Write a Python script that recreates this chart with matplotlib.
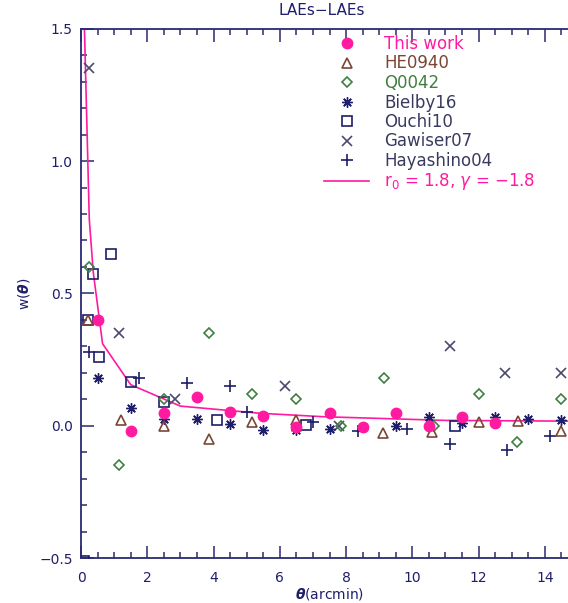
import matplotlib
matplotlib.use("Agg")
import matplotlib.pyplot as plt
from matplotlib.ticker import MultipleLocator

plt.rcParams['font.family'] = ['DejaVu Sans']

# ---- data ----
this_x = [0.5, 1.5, 2.5, 3.5, 4.5, 5.5, 6.5, 7.5, 8.5, 9.5, 10.5, 11.5, 12.5]
this_y = [0.40, -0.02, 0.047, 0.11, 0.05, 0.037, -0.004, 0.049, -0.006, 0.047, -0.001, 0.032, 0.011]

he_x = [0.2, 1.2, 2.5, 3.85, 5.15, 6.5, 9.1, 10.6, 12.0, 13.2, 14.5]
he_y = [0.40, 0.02, 0.0, -0.05, 0.013, 0.02, -0.026, -0.023, 0.013, 0.019, -0.019]

q_x = [0.25, 1.15, 2.5, 3.85, 5.15, 6.5, 7.85, 9.15, 10.65, 12.0, 13.15, 14.5]
q_y = [0.60, -0.15, 0.10, 0.35, 0.12, 0.10, 0.0, 0.18, 0.0, 0.12, -0.06, 0.10]

bi_x = [0.5, 1.5, 2.5, 3.5, 4.5, 5.5, 6.5, 7.5, 8.5, 9.5, 10.5, 11.5, 12.5, 13.5, 14.5]
bi_y = [0.18, 0.068, 0.024, 0.025, 0.006, -0.016, -0.016, -0.013, -0.005, 0.0, 0.032, 0.01, 0.032, 0.025, 0.02]

ou_x = [0.08, 0.2, 0.35, 0.55, 0.9, 1.5, 2.5, 4.1, 6.8, 11.3]
ou_y = [-0.51, 0.40, 0.575, 0.26, 0.65, 0.165, 0.09, 0.022, 0.003, 0.0]

ga_x = [0.25, 1.15, 2.85, 6.15, 7.8, 11.15, 12.8, 14.5]
ga_y = [1.35, 0.35, 0.10, 0.15, 0.0, 0.30, 0.20, 0.20]

ha_x = [0.25, 1.75, 3.2, 4.5, 5.0, 7.0, 8.35, 9.85, 11.15, 12.85, 14.15]
ha_y = [0.28, 0.18, 0.16, 0.15, 0.05, 0.013, -0.02, -0.013, -0.07, -0.09, -0.04]

fit_x = [0.08, 0.25, 0.37, 0.65, 1.5, 3.0, 5.4, 7.3, 11.0, 15.0]
fit_y = [1.62, 0.78, 0.58, 0.31, 0.155, 0.074, 0.047, 0.034, 0.020, 0.017]

xticks = [0, 2, 4, 6, 8, 10, 12, 14]
yticks = [-0.5, 0.0, 0.5, 1.0, 1.5]
ytick_labels = ['\u22120.5', '0.0', '0.5', '1.0', '1.5']

# ---- styling ----
NAVY = '#1e1e6a'
AXC = '#2a2a72'
PINK = '#ff1aa0'
BROWN = '#7a4535'
GREEN = '#3f7f3f'
GREY = '#3a3a60'

fig = plt.figure(figsize=(5.68, 6.03), dpi=100)
ax = fig.add_axes([81/568, (603-558)/603, (578-81)/568, (558-28.8)/603])

ax.plot(fit_x, fit_y, color=PINK, lw=1.2, zorder=2,
        label=r'r$_0$ = 1.8, $\gamma$ = $-$1.8')
ax.plot(ga_x, ga_y, ls='none', marker='x', ms=7, mew=1.2, color='#4a4a70', label='Gawiser07', zorder=3)
ax.plot(ha_x, ha_y, ls='none', marker='+', ms=9, mew=1.2, color=NAVY, label='Hayashino04', zorder=3)
ax.plot(ou_x, ou_y, ls='none', marker='s', ms=7.5, mew=1.2, mfc='none', mec=NAVY, label='Ouchi10', zorder=3)
ax.plot(bi_x, bi_y, ls='none', marker=(8, 2, 0), ms=7.5, mew=1.0, color=NAVY, label='Bielby16', zorder=3)
ax.plot(q_x, q_y, ls='none', marker='D', ms=5.5, mew=1.2, mfc='none', mec=GREEN, label='Q0042', zorder=3)
ax.plot(he_x, he_y, ls='none', marker='^', ms=7.5, mew=1.2, mfc='none', mec=BROWN, label='HE0940', zorder=3)
ax.plot(this_x, this_y, ls='none', marker='o', ms=7.5, color=PINK, label='This work', zorder=4)

ax.set_xlim(0, 15)
ax.set_ylim(-0.5, 1.5)
ax.set_xticks(xticks)
ax.set_yticks(yticks)
ax.set_yticklabels(ytick_labels)
ax.xaxis.set_minor_locator(MultipleLocator(0.5))
ax.yaxis.set_minor_locator(MultipleLocator(0.1))
ax.tick_params(which='both', direction='in', top=True, right=False, colors=AXC,
               labelcolor=NAVY, labelsize=10, width=1.1)
ax.tick_params(which='major', length=9)
ax.tick_params(axis='x', which='major', pad=9)
ax.tick_params(axis='y', which='major', pad=6)
ax.tick_params(which='minor', length=4)
for s in ax.spines.values():
    s.set_color(AXC)
    s.set_linewidth(1.3)

ax.set_title('LAEs\u2212LAEs', color=NAVY, fontsize=11, pad=10, x=0.485)
ax.set_xlabel(r'$\boldsymbol{\theta}$(arcmin)', color=NAVY, fontsize=10, labelpad=1)
ax.set_ylabel(r'w($\boldsymbol{\theta}$)', color=NAVY, fontsize=10, labelpad=0)
ax.yaxis.set_label_coords(-0.098, 0.5)

handles, labels = ax.get_legend_handles_labels()
order = ['This work', 'HE0940', 'Q0042', 'Bielby16', 'Ouchi10', 'Gawiser07', 'Hayashino04',
         r'r$_0$ = 1.8, $\gamma$ = $-$1.8']
hmap = dict(zip(labels, handles))
leg = ax.legend([hmap[l] for l in order], order, loc='upper left',
                bbox_to_anchor=(324/568, 1 - 35/603), bbox_transform=fig.transFigure,
                frameon=False, fontsize=12, handlelength=2.7, handletextpad=0.9,
                labelspacing=0.09, borderpad=0, borderaxespad=0)
tcolors = [PINK, BROWN, GREEN, GREY, GREY, GREY, GREY, PINK]
for t, c in zip(leg.get_texts(), tcolors):
    t.set_color(c)

fig.savefig('out.png', dpi=100)
